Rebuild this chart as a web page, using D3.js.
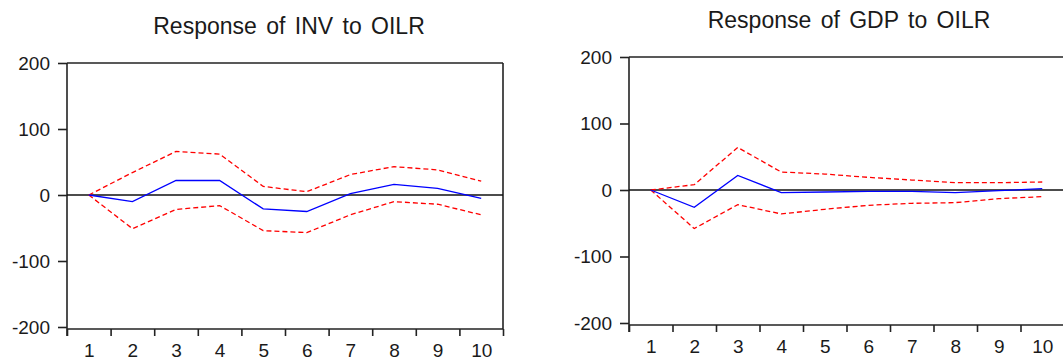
<!DOCTYPE html>
<html>
<head>
<meta charset="utf-8">
<title>Impulse responses</title>
<script src="https://cdn.jsdelivr.net/npm/d3@7"></script>
<style>
html,body{margin:0;padding:0;background:#fff;}
svg{display:block;font-family:"Liberation Sans",Arial,sans-serif;}
.tick text{fill:#1a1a1a;}
</style>
</head>
<body>
<script>
// periods after the shock
var periods=[1,2,3,4,5,6,7,8,9,10];
var yTicks=[-200,-100,0,100,200];

// Response of INV to OILR
var invResp =[0,-10,22,22,-21,-25,2,16,10,-5];
var invUpper=[0,34,66,62,13,5,31,43,38,21];
var invLower=[0,-51,-22,-16,-54,-57,-30,-10,-14,-30];

// Response of GDP to OILR
var gdpResp =[0,-26,22,-4,-3,-2,-2,-4,-1,2];
var gdpUpper=[0,8,64,27,24,19,15,11,11,12];
var gdpLower=[0,-58,-22,-36,-29,-23,-20,-19,-13,-10];

var svg=d3.select("body").append("svg")
	.attr("width",1063)
	.attr("height",360);

function panel(opt){
	var g=svg.append("g");
	var x=d3.scaleLinear().domain([0.5,10.5]).range([opt.left,opt.right]);
	var y=d3.scaleLinear().domain([-200,200]).range([opt.bottom-2,opt.top]);

	// title
	g.append("text")
	.attr("x",opt.titleX)
	.attr("y",opt.titleY)
	.attr("text-anchor","middle")
	.style("font-size","23px")
	.style("word-spacing","3px")
	.attr("fill","#1a1a1a")
	.text(opt.title);

	// frame
	g.append("line").attr("x1",opt.left).attr("x2",opt.right)
	.attr("y1",opt.top).attr("y2",opt.top)
	.attr("stroke","#222").attr("stroke-width",1.6);
	g.append("line").attr("x1",opt.right).attr("x2",opt.right)
	.attr("y1",opt.top).attr("y2",opt.bottom)
	.attr("stroke","#222").attr("stroke-width",1.6);

	// y axis (plain hyphen for negatives, as in the original)
	var ya=g.append("g")
	.attr("transform","translate("+opt.left+",0)")
	.call(d3.axisLeft(y).tickValues(yTicks).tickSize(9).tickPadding(8).tickFormat(function(d){return String(d);}));
	ya.select(".domain").attr("stroke","#222").attr("stroke-width",1.6)
	.attr("d","M0,"+opt.top+"V"+(opt.bottom+7));
	ya.selectAll(".tick line").attr("stroke","#222").attr("stroke-width",1.6);
	ya.selectAll(".tick text").style("font-size","19px");

	// x axis: band ticks
	var xb=d3.range(0.5,11,1);
	var xa=g.append("g")
	.attr("transform","translate(0,"+opt.bottom+")")
	.call(d3.axisBottom(x).tickValues(xb).tickSize(7).tickFormat(""));
	xa.select(".domain").attr("stroke","#222").attr("stroke-width",1.6)
	.attr("d","M"+opt.left+",0H"+opt.right);
	xa.selectAll(".tick line").attr("stroke","#222").attr("stroke-width",1.6);

	// x labels
	var xl=g.append("g")
	.attr("transform","translate(0,"+opt.bottom+")")
	.call(d3.axisBottom(x).tickValues(periods).tickSize(0).tickPadding(15));
	xl.select(".domain").remove();
	xl.selectAll(".tick text").style("font-size","19px");

	// zero line
	g.append("line")
	.attr("x1",opt.left).attr("x2",opt.right)
	.attr("y1",y(0)).attr("y2",y(0))
	.attr("stroke","#111").attr("stroke-width",1.3);

	var line=d3.line().x(function(d,i){return x(periods[i]);}).y(function(d){return y(d);});

	g.append("path").datum(opt.upper)
	.attr("d",line).attr("fill","none")
	.attr("stroke","#ff0000").attr("stroke-width",1.3).attr("stroke-dasharray","5,3");
	g.append("path").datum(opt.lower)
	.attr("d",line).attr("fill","none")
	.attr("stroke","#ff0000").attr("stroke-width",1.3).attr("stroke-dasharray","5,3");
	g.append("path").datum(opt.resp)
	.attr("d",line).attr("fill","none")
	.attr("stroke","#0000ff").attr("stroke-width",1.3);
}

panel({title:"Response of INV to OILR",titleX:289,titleY:34,
	left:67,right:503,top:63,bottom:329,
	resp:invResp,upper:invUpper,lower:invLower});

panel({title:"Response of GDP to OILR",titleX:849,titleY:28,
	left:629,right:1064,top:57,bottom:325,
	resp:gdpResp,upper:gdpUpper,lower:gdpLower});
</script>
</body>
</html>
